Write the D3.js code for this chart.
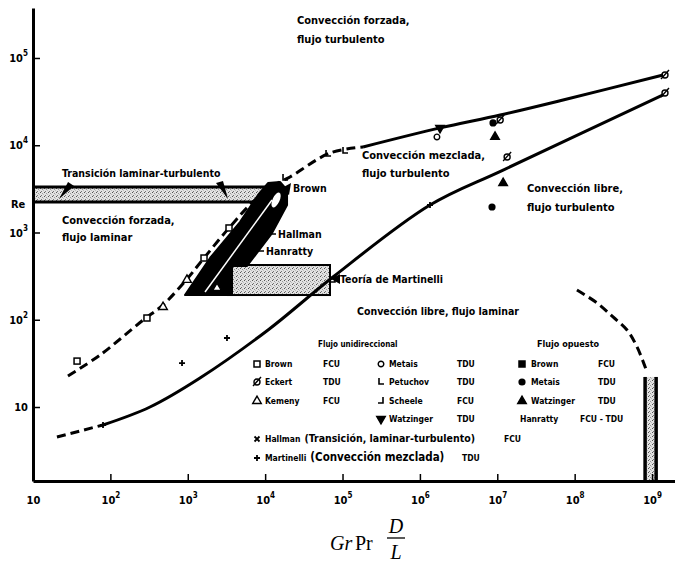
<!DOCTYPE html>
<html>
<head>
<meta charset="utf-8">
<script src="https://cdn.jsdelivr.net/npm/d3@7"></script>
<style>
body { margin: 0; background: #fff; }
svg { display: block; }
.t { font-family: "Liberation Sans Narrow", "Arial Narrow", "DejaVu Sans Condensed", sans-serif; font-weight: bold; fill: #000; }
.ser { font-family: "Liberation Serif", "Times New Roman", serif; fill: #000; }
</style>
</head>
<body>
<div id="chart"></div>
<script>
// ejes: Gr Pr D/L (log) y Re (log)
var xTicks = [10, 1e2, 1e3, 1e4, 1e5, 1e6, 1e7, 1e8, 1e9];
var yTicks = [10, 1e2, 1e3, 1e4, 1e5];

// frontera conveccion forzada / mezclada
var upperCurve = [[28.3, 22.7], [73.4, 39.4], [264, 99], [479, 148], [977, 293], [1622, 510], [3413, 1127],
  [7400, 2356], [15560, 3793], [20950, 4327], [68900, 8150], [184000, 9550], [1.82e6, 15800],
  [1.09e7, 22200], [7.08e7, 33000], [1.39e9, 63800]];
var upperDashedEnd = 11;
// frontera conveccion mezclada / libre (Martinelli)
var lowerCurve = [[20.4, 4.53], [80.3, 6.22], [325, 10], [1439, 21.5], [10900, 76.4], [75300, 309],
  [1.35e6, 2065], [1.19e7, 5200], [1.39e9, 37700]];
var lowerDashedEnd = 1;
// arco discontinuo a la derecha
var rightArc = [[1.07e8, 219], [1.95e8, 155.6], [3.13e8, 107.6], [4.75e8, 76.4], [6.4e8, 48.8], [8.6e8, 25.2]];

// zonas
var transBandRe = [2240, 3318];
var transBandX = [10, 6970, 14200];
var transArrowTips = [[21.7, 2422], [3311, 2422]];
var martX = [3311, 68900];
var martRe = [192, 424];
var hallmanRegion = [[921, 192], [3733, 192], [3733, 413], [5830, 413], [12270, 986], [19190, 2065],
  [19190, 3070], [15560, 3793], [10890, 3690], [8090, 2692], [4730, 1318], [1941, 510]];
var hanrattyLine = [[1671, 208], [12270, 2356]];
var brownLoop = [13840, 2356];
var bandX = [8.13e8, 1.13e9];
var bandTopRe = 22.1;

// puntos experimentales
var brownU = [[37.1, 33.6], [297, 104.7], [1622, 510], [3413, 1127]];
var kemenyU = [[479, 140], [977, 286], [2388, 231]];
var eckertU = [[1.47e9, 63800], [1.47e9, 39700], [1.34e7, 7330], [1.09e7, 19500]];
var metaisU = [[1.66e6, 12450]];
var petuchovU = [[18070, 4220], [65000, 7940], [107700, 8590]];
var scheeleU = [[75300, 286]];
var watzU = [[1.82e6, 15800]];
var martinelliU = [[80.3, 6.22], [843, 31.9], [3213, 61.8], [1.35e6, 2065]];
var metaisO = [[8.81e6, 18000], [8.55e6, 1960]];
var watzO = [[9.35e6, 12450], [1.19e7, 3690]];

var svg = d3.select("#chart").append("svg").attr("width", 675).attr("height", 564);

var x = d3.scaleLog().domain([10, 1.98e9]).range([33, 675]);
var y = d3.scaleLog().domain([1.419, 3.74e5]).range([481, 8]);

var defs = svg.append("defs");
var pat = defs.append("pattern").attr("id", "stip").attr("width", 4).attr("height", 4)
  .attr("patternUnits", "userSpaceOnUse");
pat.append("rect").attr("width", 4).attr("height", 4).attr("fill", "#e2e2e2");
[[0, 0, "#555"], [2, 1, "#999"], [1, 3, "#777"], [3, 2, "#bbb"]].forEach(function(p) {
  pat.append("rect").attr("x", p[0]).attr("y", p[1]).attr("width", 1).attr("height", 1).attr("fill", p[2]);
});

var line = d3.line().x(function(d) { return x(d[0]); }).y(function(d) { return y(d[1]); })
  .curve(d3.curveCatmullRom.alpha(0.5));
var poly = d3.line().x(function(d) { return x(d[0]); }).y(function(d) { return y(d[1]); });

// banda de transicion
svg.append("path")
  .attr("d", poly([[transBandX[0], transBandRe[1]], [transBandX[2], transBandRe[1]],
                   [transBandX[1], transBandRe[0]], [transBandX[0], transBandRe[0]]]) + "Z")
  .attr("fill", "url(#stip)");
svg.append("path").attr("d", poly([[transBandX[0], transBandRe[1]], [transBandX[2], transBandRe[1]]]))
  .attr("stroke", "#000").attr("stroke-width", 3);
svg.append("path").attr("d", poly([[transBandX[0], transBandRe[0]], [transBandX[1], transBandRe[0]]]))
  .attr("stroke", "#000").attr("stroke-width", 3);
var wedges = [[[0, 0], [9, -17], [15, -13]], [[0, 0], [-12, -16], [-5, -18]]];
transArrowTips.forEach(function(d, i) {
  var px = x(d[0]), py = y(d[1]);
  svg.append("path").attr("d", "M" + wedges[i].map(function(o) { return (px + o[0]) + "," + (py + o[1]); }).join("L") + "Z")
    .attr("fill", "#000");
});

// rectangulo teoria de Martinelli
svg.append("rect")
  .attr("x", x(martX[0])).attr("y", y(martRe[1]))
  .attr("width", x(martX[1]) - x(martX[0])).attr("height", y(martRe[0]) - y(martRe[1]))
  .attr("fill", "url(#stip)").attr("stroke", "#000").attr("stroke-width", 2);

// banda vertical a Gr ~ 1e9
svg.append("rect")
  .attr("x", x(bandX[0])).attr("y", y(bandTopRe))
  .attr("width", x(bandX[1]) - x(bandX[0])).attr("height", 481 - y(bandTopRe))
  .attr("fill", "url(#stip)");
bandX.forEach(function(v) {
  svg.append("line").attr("x1", x(v)).attr("x2", x(v)).attr("y1", y(bandTopRe)).attr("y2", 481)
    .attr("stroke", "#000").attr("stroke-width", 3.5);
});

// curvas
function curve(data, dashed) {
  svg.append("path").attr("d", line(data)).attr("fill", "none").attr("stroke", "#000")
    .attr("stroke-width", 3).attr("stroke-dasharray", dashed ? "9,5" : null);
}
curve(upperCurve.slice(0, upperDashedEnd + 1), true);
curve(upperCurve.slice(upperDashedEnd), false);
curve(lowerCurve.slice(0, lowerDashedEnd + 1), true);
curve(lowerCurve.slice(lowerDashedEnd), false);
curve(rightArc, true);

// region Hallman / Hanratty
svg.append("path").attr("d", poly(hallmanRegion) + "Z").attr("fill", "#000")
  .attr("stroke", "#000").attr("stroke-width", 2).attr("stroke-linejoin", "round");
svg.append("path").attr("d", poly(hanrattyLine)).attr("stroke", "#fff").attr("stroke-width", 1.5);
svg.append("ellipse").attr("cx", x(brownLoop[0])).attr("cy", y(brownLoop[1]))
  .attr("rx", 3.5).attr("ry", 8).attr("transform", "rotate(25," + x(brownLoop[0]) + "," + y(brownLoop[1]) + ")")
  .attr("fill", "#fff");

// simbolos
function drawMark(g, type, px, py) {
  var s = g.append("g").attr("transform", "translate(" + px + "," + py + ")");
  if (type === "sq" || type === "sqf") {
    s.append("rect").attr("x", -3).attr("y", -3).attr("width", 6).attr("height", 6)
      .attr("fill", type === "sqf" ? "#000" : "#fff").attr("stroke", "#000").attr("stroke-width", 1.5);
  } else if (type === "tri" || type === "trif" || type === "trid") {
    s.append("path").attr("d", d3.symbol(d3.symbolTriangle, 32)())
      .attr("transform", type === "trid" ? "rotate(180)" : null)
      .attr("fill", type === "tri" ? "#fff" : "#000").attr("stroke", "#000").attr("stroke-width", 1.4);
  } else if (type === "circ") {
    s.append("circle").attr("r", 2.8).attr("fill", "#fff").attr("stroke", "#000").attr("stroke-width", 1.4);
  } else if (type === "circf") {
    s.append("circle").attr("r", 3.6).attr("fill", "#000");
  } else if (type === "eck") {
    s.append("circle").attr("r", 3).attr("fill", "none").attr("stroke", "#000").attr("stroke-width", 1.4);
    s.append("path").attr("d", "M-4,4L4,-5").attr("stroke", "#000").attr("stroke-width", 1.4);
  } else if (type === "L") {
    s.append("path").attr("d", "M-2,-4V2H3").attr("fill", "none").attr("stroke", "#000").attr("stroke-width", 1.6);
  } else if (type === "J") {
    s.append("path").attr("d", "M2,-4V2H-3").attr("fill", "none").attr("stroke", "#000").attr("stroke-width", 1.6);
  } else if (type === "plus") {
    s.append("path").attr("d", "M-3,0H3M0,-3V3").attr("stroke", "#000").attr("stroke-width", 1.8);
  } else if (type === "x") {
    s.append("path").attr("d", "M-2.5,-2.5L2.5,2.5M2.5,-2.5L-2.5,2.5").attr("stroke", "#000").attr("stroke-width", 1.8);
  }
}
var marks = svg.append("g");
[[brownU, "sq"], [kemenyU, "tri"], [eckertU, "eck"], [metaisU, "circ"], [petuchovU, "L"],
 [scheeleU, "J"], [watzU, "trid"], [martinelliU, "plus"], [metaisO, "circf"], [watzO, "trif"]]
  .forEach(function(set) {
    set[0].forEach(function(d) { drawMark(marks, set[1], x(d[0]), y(d[1])); });
  });

// ejes
var sup = function(sel) {
  sel.each(function(d) {
    var t = d3.select(this), e = Math.round(Math.log10(d));
    t.text(null);
    t.append("tspan").text("10");
    if (e > 1) t.append("tspan").attr("dy", -6).attr("font-size", 8).text(e);
  });
};
var xAxis = svg.append("g").attr("transform", "translate(0,481)")
  .call(d3.axisBottom(x).tickValues(xTicks).tickSizeInner(-7).tickSizeOuter(0).tickPadding(15));
xAxis.select(".domain").attr("stroke-width", 3);
xAxis.selectAll(".tick line").attr("stroke-width", 1.5);
xAxis.selectAll(".tick text").attr("class", "t").attr("font-size", 11).call(sup);
xAxis.selectAll(".tick").filter(function(d) { return d === 10; }).select("line").remove();

var yAxis = svg.append("g").attr("transform", "translate(33,0)")
  .call(d3.axisLeft(y).tickValues(yTicks).tickSizeInner(-7).tickSizeOuter(0).tickPadding(5));
yAxis.select(".domain").attr("stroke-width", 3);
yAxis.selectAll(".tick line").attr("stroke-width", 1.5);
yAxis.selectAll(".tick text").attr("class", "t").attr("font-size", 11).call(sup);

svg.append("text").attr("class", "t").attr("x", 11).attr("y", 208).attr("font-size", 11).text("Re");

// titulo eje x
svg.append("text").attr("class", "ser").attr("x", 330).attr("y", 550).attr("font-size", 20)
  .attr("font-style", "italic").text("Gr");
svg.append("text").attr("class", "ser").attr("x", 355).attr("y", 550).attr("font-size", 20).text("Pr");
svg.append("text").attr("class", "ser").attr("x", 396).attr("y", 533).attr("font-size", 20)
  .attr("font-style", "italic").attr("text-anchor", "middle").text("D");
svg.append("line").attr("x1", 387).attr("x2", 405).attr("y1", 538).attr("y2", 538)
  .attr("stroke", "#000").attr("stroke-width", 1.3);
svg.append("text").attr("class", "ser").attr("x", 396).attr("y", 559).attr("font-size", 20)
  .attr("font-style", "italic").attr("text-anchor", "middle").text("L");

// rotulos de regiones
var labels = [
  [297, 24, 11, "Convección forzada,"], [297, 43, 11, "flujo turbulento"],
  [62, 177, 10.5, "Transición laminar-turbulento"],
  [293, 192, 10.5, "Brown"],
  [62, 224, 11, "Convección forzada,"], [62, 241, 11, "flujo laminar"],
  [278, 238, 10.5, "Hallman"], [266, 255, 10.5, "Hanratty"],
  [340, 283, 10.5, "Teoría de Martinelli"],
  [362, 159, 11, "Convección mezclada,"], [362, 177, 11, "flujo turbulento"],
  [527, 192, 11, "Convección libre,"], [527, 211, 11, "flujo turbulento"],
  [357, 315, 10.5, "Convección libre, flujo laminar"]
];
labels.forEach(function(l) {
  svg.append("text").attr("class", "t").attr("x", l[0]).attr("y", l[1]).attr("font-size", l[2]).text(l[3]);
});
// guias de rotulos
svg.append("path").attr("d", "M266,234H276M254,251H264").attr("stroke", "#000").attr("stroke-width", 1.5);
svg.append("path").attr("d", "M331,279L340,274L340,284Z").attr("fill", "#000");
svg.append("path").attr("d", "M280,189L291,183L289,195Z").attr("fill", "#000");

// leyenda
var lg = svg.append("g");
var uniRows = [
  ["sq", "Brown", "FCU", "circ", "Metais", "TDU"],
  ["eck", "Eckert", "TDU", "L", "Petuchov", "TDU"],
  ["tri", "Kemeny", "FCU", "J", "Scheele", "FCU"],
  [null, "", "", "trid", "Watzinger", "TDU"]
];
var oppRows = [
  ["sqf", "Brown", "FCU"], ["circf", "Metais", "TDU"], ["trif", "Watzinger", "TDU"], [null, "Hanratty", "FCU - TDU"]
];
var rowY = [367, 385, 404, 422, 442, 461];
// texto de leyenda con tamaño reducido; devuelve el borde derecho
function ltext(xp, yp, s, size) {
  if (!s) return xp;
  var t = lg.append("text").attr("class", "t").attr("x", xp).attr("y", yp).attr("font-size", size || 8.5).text(s);
  return xp + t.node().getComputedTextLength();
}
ltext(318, 347, "Flujo unidireccional", 8);
ltext(537, 347, "Flujo opuesto", 9);
uniRows.forEach(function(r, i) {
  var yy = rowY[i];
  if (r[0]) drawMark(lg, r[0], 257, yy - 3);
  ltext(265, yy, r[1]); ltext(323, yy, r[2]);
  drawMark(lg, r[3], 381, yy - 3);
  ltext(389, yy, r[4]); ltext(457, yy, r[5]);
});
drawMark(lg, "x", 257, rowY[4] - 3);
var e1 = ltext(265, rowY[4], "Hallman");
ltext(Math.max(298, e1 + 4), rowY[4], "(Transición, laminar-turbulento)", 10.5);
ltext(504, rowY[4], "FCU");
drawMark(lg, "plus", 257, rowY[5] - 3);
var e2 = ltext(265, rowY[5], "Martinelli");
ltext(Math.max(300, e2 + 4), rowY[5], "(Convección mezclada)", 11.5);
ltext(462, rowY[5], "TDU");
oppRows.forEach(function(r, i) {
  var yy = rowY[i];
  if (r[0]) drawMark(lg, r[0], 522, yy - 3);
  ltext(r[0] ? 531 : 520, yy, r[1]);
  ltext(r[0] ? 598 : 580, yy, r[2]);
});
</script>
</body>
</html>
